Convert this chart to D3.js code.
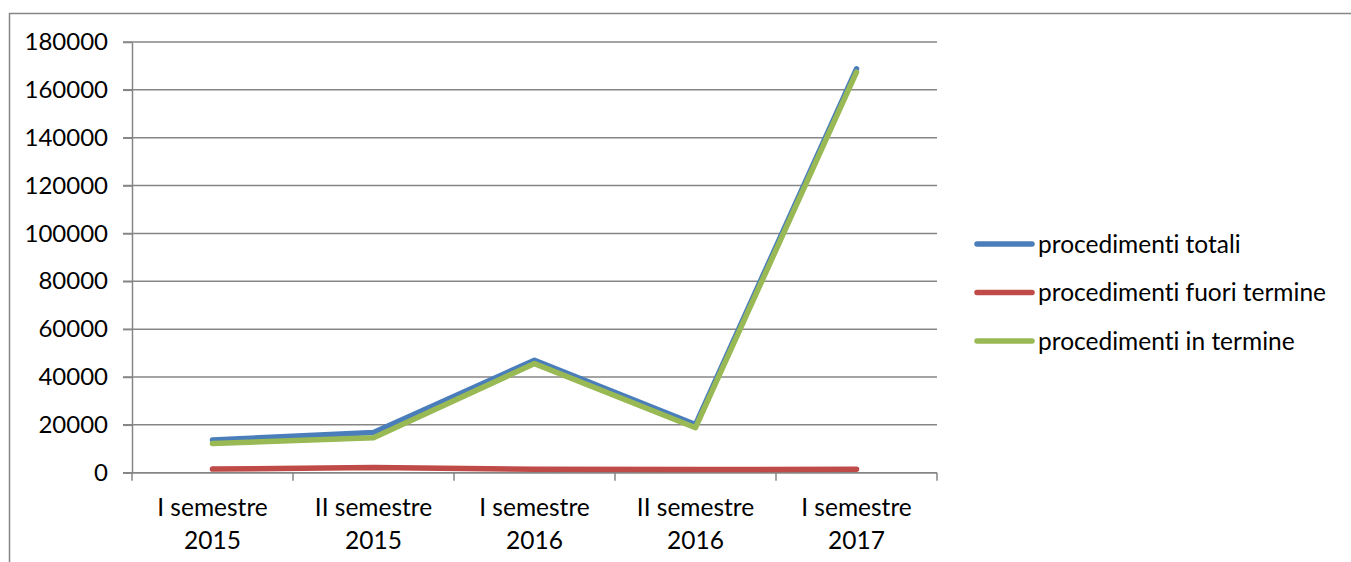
<!DOCTYPE html>
<html>
<head>
<meta charset="utf-8">
<script src="https://cdn.jsdelivr.net/npm/d3@7"></script>
<style>
  body { margin: 0; background: #fff; }
  svg { display: block; }
  text { font-family: Lato, "Open Sans", sans-serif; fill: #000; font-variant-ligatures: none; }
</style>
</head>
<body>
<div id="chart-area"></div>
<script>
// Data
let categories = ['I semestre 2015', 'II semestre 2015', 'I semestre 2016', 'II semestre 2016', 'I semestre 2017'];
let seriesNames = ['procedimenti totali', 'procedimenti fuori termine', 'procedimenti in termine'];
let totali = [13700, 16800, 47000, 20100, 168800];
let fuoriTermine = [1500, 2200, 1400, 1300, 1400];
let inTermine = [12200, 14600, 45600, 18800, 167400];
let yTicks = [0, 20000, 40000, 60000, 80000, 100000, 120000, 140000, 160000, 180000];
let colors = ['#4A7EBB', '#BE4B48', '#98B954'];

let series = [totali, fuoriTermine, inTermine];

let W = 1351, H = 562;
let svg = d3.select('#chart-area').append('svg')
  .attr('width', W)
  .attr('height', H);

// outer chart border (top + left visible)
svg.append('path')
  .attr('d', 'M9.5,' + H + 'V13.5H' + W)
  .attr('fill', 'none')
  .attr('stroke', '#868686')
  .attr('stroke-width', 1.5);

// Scales
let x = d3.scaleBand().domain(categories).range([132, 937]);
let y = d3.scaleLinear().domain([0, 180000]).range([472.7, 42]);

// Gridlines
svg.append('g').selectAll('line').data(yTicks).enter().append('line')
  .attr('x1', 123).attr('x2', 937)
  .attr('y1', d => y(d)).attr('y2', d => y(d))
  .attr('stroke', '#868686').attr('stroke-width', 1.5);

// Y axis
let yAxis = d3.axisLeft(y).tickValues(yTicks).tickSize(9).tickSizeOuter(0).tickPadding(15).tickFormat(d3.format('d'));
let yG = svg.append('g').attr('transform', 'translate(132,0)').call(yAxis);
yG.select('.domain').attr('stroke', '#868686').attr('stroke-width', 1.5);
yG.selectAll('.tick line').attr('stroke', '#868686').attr('stroke-width', 1.5);
yG.selectAll('.tick text').attr('font-size', 24).attr('font-family', 'Lato, sans-serif').attr('fill', '#000');

// X axis (ticks on band boundaries)
svg.append('line')
  .attr('x1', 132).attr('x2', 937)
  .attr('y1', y(0)).attr('y2', y(0))
  .attr('stroke', '#868686').attr('stroke-width', 1.5);
let bounds = categories.map(c => x(c)).concat([x.range()[1]]);
svg.append('g').selectAll('line').data(bounds).enter().append('line')
  .attr('x1', d => d).attr('x2', d => d)
  .attr('y1', y(0)).attr('y2', y(0) + 8)
  .attr('stroke', '#868686').attr('stroke-width', 1.5);

let xLabels = svg.append('g').selectAll('text').data(categories).enter().append('text')
  .attr('x', d => x(d) + x.bandwidth() / 2)
  .attr('text-anchor', 'middle')
  .attr('font-size', 24.5);
xLabels.append('tspan')
  .attr('x', d => x(d) + x.bandwidth() / 2)
  .attr('y', 516)
  .text(d => d.split(' ').slice(0, 2).join(' '));
xLabels.append('tspan')
  .attr('x', d => x(d) + x.bandwidth() / 2)
  .attr('y', 549)
  .text(d => d.split(' ')[2]);

// Lines
let line = d3.line()
  .x((d, i) => x(categories[i]) + x.bandwidth() / 2)
  .y(d => y(d));

svg.append('g').selectAll('path').data(series).enter().append('path')
  .attr('d', d => line(d))
  .attr('fill', 'none')
  .attr('stroke', (d, i) => colors[i])
  .attr('stroke-width', 5.5)
  .attr('stroke-linecap', 'round')
  .attr('stroke-linejoin', 'round');

// Legend
let legend = svg.append('g').selectAll('g').data(seriesNames).enter().append('g')
  .attr('transform', (d, i) => 'translate(977,' + (244 + i * 48.5) + ')');
legend.append('line')
  .attr('x1', 0).attr('x2', 55)
  .attr('stroke', (d, i) => colors[i])
  .attr('stroke-width', 5.5)
  .attr('stroke-linecap', 'round');
legend.append('text')
  .attr('x', 61)
  .attr('dy', '0.35em')
  .attr('font-size', 24.5)
  .text(d => d);
</script>
</body>
</html>
